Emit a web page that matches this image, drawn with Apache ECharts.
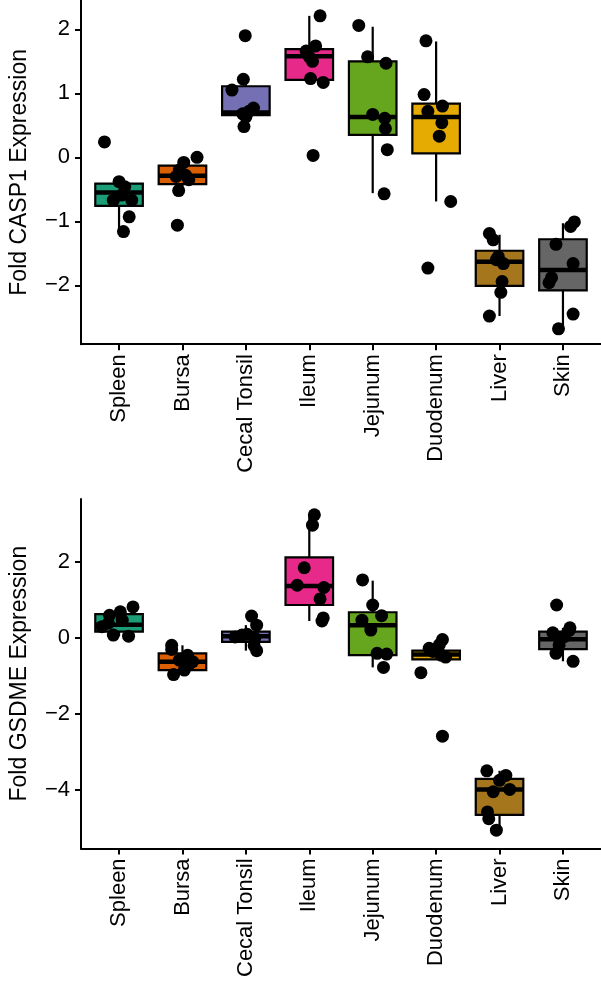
<!DOCTYPE html>
<html>
<head>
<meta charset="utf-8">
<script src="https://cdn.jsdelivr.net/npm/echarts@6/dist/echarts.min.js"></script>
<style>html,body{margin:0;padding:0;background:#fff}#c{width:601px;height:992px}</style>
</head>
<body>
<div id="c"></div>
<script>
const categories = ['Spleen', 'Bursa', 'Cecal Tonsil', 'Ileum', 'Jejunum', 'Duodenum', 'Liver', 'Skin'];
const colors = ['#1B9E77', '#D95F02', '#7570B3', '#E7298A', '#66A61E', '#E6AB02', '#A6761D', '#666666'];

// box stats: [lower whisker, Q1, median, Q3, upper whisker]
const casp1Box = [
  [-1.16, -0.76, -0.55, -0.41, -0.38],
  [-0.52, -0.42, -0.29, -0.13, 0.0],
  [0.48, 0.66, 0.70, 1.11, 1.22],
  [1.17, 1.21, 1.58, 1.69, 2.21],
  [-0.56, 0.35, 0.63, 1.50, 2.04],
  [-0.69, 0.06, 0.63, 0.84, 1.81],
  [-2.48, -2.01, -1.63, -1.46, -1.21],
  [-2.67, -2.08, -1.76, -1.28, -1.03]
];
const casp1Values = [
  [0.24, -0.38, -0.46, -0.59, -0.67, -0.67, -0.93, -1.16],
  [0.0, -0.08, -0.20, -0.28, -0.30, -0.35, -0.52, -1.06],
  [1.90, 1.22, 1.05, 0.77, 0.72, 0.68, 0.63, 0.48],
  [2.21, 1.74, 1.66, 1.57, 1.50, 1.23, 1.17, 0.03],
  [2.06, 1.57, 1.47, 0.67, 0.61, 0.45, 0.12, -0.57],
  [1.82, 0.98, 0.72, 0.80, 0.54, 0.33, -0.69, -1.73],
  [-1.19, -1.29, -1.55, -1.66, -1.60, -1.94, -2.11, -2.48],
  [-1.01, -1.08, -1.36, -1.66, -1.88, -1.96, -2.45, -2.68]
];
const casp1Jitter = [
  [-0.23, 0.0, 0.09, 0.04, -0.09, 0.20, 0.16, 0.07],
  [0.23, 0.02, -0.05, 0.05, -0.10, 0.10, -0.06, -0.08],
  [-0.01, -0.04, -0.22, 0.12, 0.05, -0.05, 0.0, -0.03],
  [0.17, 0.10, -0.05, 0.0, 0.05, 0.02, 0.22, 0.06],
  [-0.22, -0.08, 0.21, 0.0, 0.19, 0.20, 0.23, 0.18],
  [-0.16, -0.19, -0.13, 0.10, 0.09, 0.05, 0.23, -0.13],
  [-0.16, -0.10, -0.02, 0.06, -0.05, 0.04, 0.02, -0.16],
  [0.18, 0.12, -0.11, 0.16, -0.18, -0.22, 0.16, -0.07]
];

const gsdmeBox = [
  [0.05, 0.17, 0.35, 0.63, 0.82],
  [-0.96, -0.84, -0.62, -0.40, -0.19],
  [-0.33, -0.10, 0.05, 0.17, 0.34],
  [0.45, 0.87, 1.37, 2.12, 3.24],
  [-0.77, -0.45, 0.34, 0.68, 1.51],
  [-0.56, -0.56, -0.43, -0.33, -0.04],
  [-4.95, -4.65, -3.98, -3.70, -3.49],
  [-0.61, -0.29, -0.03, 0.17, 0.27]
];
const gsdmeValues = [
  [0.82, 0.69, 0.60, 0.47, 0.39, 0.30, 0.08, 0.05],
  [-0.19, -0.30, -0.45, -0.58, -0.62, -0.70, -0.84, -0.96],
  [0.58, 0.34, 0.08, 0.03, 0.0, 0.10, -0.20, -0.33],
  [3.24, 2.97, 1.85, 1.39, 1.33, 1.03, 0.53, 0.45],
  [1.53, 0.87, 0.59, 0.47, 0.21, -0.40, -0.42, -0.77],
  [-0.04, -0.18, -0.27, -0.35, -0.45, -0.50, -0.91, -2.58],
  [-3.49, -3.61, -3.74, -4.04, -3.98, -4.57, -4.75, -5.05],
  [0.87, 0.27, 0.14, 0.20, 0.04, -0.18, -0.40, -0.61]
];
const gsdmeJitter = [
  [0.22, 0.02, -0.15, 0.05, -0.17, -0.27, -0.09, 0.15],
  [-0.17, -0.17, 0.08, -0.05, 0.16, 0.10, 0.03, -0.14],
  [0.09, 0.17, -0.06, -0.17, 0.14, 0.02, 0.13, 0.17],
  [0.08, 0.05, -0.08, -0.19, 0.23, 0.17, 0.22, 0.20],
  [-0.16, 0.0, 0.14, -0.17, -0.03, 0.07, 0.22, 0.17],
  [0.10, 0.05, -0.11, -0.05, 0.08, 0.15, -0.24, 0.10],
  [-0.20, 0.10, 0.0, -0.10, 0.16, -0.19, -0.17, -0.05],
  [-0.10, 0.11, -0.16, 0.10, 0.02, -0.06, -0.11, 0.16]
];

const casp1Ticks = [-2, -1, 0, 1, 2];
const gsdmeTicks = [-4, -2, 0, 2];
const catTicks = [1, 2, 3, 4, 5, 6, 7, 8];

const FONT = 'Liberation Sans, Arial, Helvetica, sans-serif';
const minus = v => String(v).replace('-', '\u2212');

function boxData(box) {
  return box.map((b, i) => [i + 1].concat(b));
}
function pointData(values, jitter) {
  const out = [];
  values.forEach((arr, i) => arr.forEach((v, j) => out.push([i + 1 + jitter[i][j], v])));
  return out;
}

function renderBox(params, api) {
  const x = api.value(0);
  const lo = api.coord([x, api.value(1)]);
  const q1 = api.coord([x, api.value(2)]);
  const med = api.coord([x, api.value(3)]);
  const q3 = api.coord([x, api.value(4)]);
  const hi = api.coord([x, api.value(5)]);
  const hw = api.size([0.75, 0])[0] / 2;
  const col = colors[params.dataIndex];
  return {
    type: 'group',
    children: [
      { type: 'line', shape: { x1: lo[0], y1: lo[1], x2: q1[0], y2: q1[1] }, style: { stroke: '#000', lineWidth: 2.2 } },
      { type: 'line', shape: { x1: q3[0], y1: q3[1], x2: hi[0], y2: hi[1] }, style: { stroke: '#000', lineWidth: 2.2 } },
      { type: 'rect', shape: { x: q3[0] - hw, y: q3[1], width: hw * 2, height: q1[1] - q3[1] }, style: { fill: col, stroke: '#000', lineWidth: 2.2 } },
      { type: 'line', shape: { x1: med[0] - hw, y1: med[1], x2: med[0] + hw, y2: med[1] }, style: { stroke: '#000', lineWidth: 4.5 } }
    ]
  };
}

function xAxis(gridIndex) {
  return {
    type: 'value', gridIndex, min: 0.4, max: 8.6,
    splitLine: { show: false },
    axisLine: { show: true, onZero: false, lineStyle: { color: '#000', width: 2 } },
    axisTick: { show: true, length: 6, lineStyle: { color: '#000', width: 2 }, customValues: catTicks },
    axisLabel: {
      customValues: catTicks, rotate: 90, margin: 10, color: '#000', fontSize: 22, fontFamily: FONT,
      formatter: v => categories[Math.round(v) - 1] || ''
    }
  };
}
function yAxis(gridIndex, min, max, ticks, name) {
  return {
    type: 'value', gridIndex, min, max, name, nameLocation: 'middle', nameGap: 50, nameRotate: 90,
    nameTextStyle: { color: '#000', fontSize: 23, fontFamily: FONT },
    splitLine: { show: false },
    axisLine: { show: true, onZero: false, lineStyle: { color: '#000', width: 2 } },
    axisTick: { show: true, length: 6, lineStyle: { color: '#000', width: 2 }, customValues: ticks },
    axisLabel: { customValues: ticks, margin: 11, color: '#000', fontSize: 22, fontFamily: FONT, formatter: minus }
  };
}

const chart = echarts.init(document.getElementById('c'), null, { renderer: 'canvas' });
chart.setOption({
  animation: false,
  backgroundColor: '#fff',
  grid: [
    { left: 74, right: 0, top: 0.5, height: 343.7 },
    { left: 74, right: 0, top: 498.9, height: 349.5 }
  ],
  xAxis: [xAxis(0), xAxis(1)],
  yAxis: [
    yAxis(0, -2.92, 2.45, casp1Ticks, 'Fold CASP1 Expression'),
    yAxis(1, -5.53, 3.66, gsdmeTicks, 'Fold GSDME Expression')
  ],
  series: [
    { type: 'custom', xAxisIndex: 0, yAxisIndex: 0, renderItem: renderBox, data: boxData(casp1Box), encode: { x: 0, y: [1, 2, 3, 4, 5] }, z: 1 },
    { type: 'scatter', xAxisIndex: 0, yAxisIndex: 0, symbol: 'circle', symbolSize: 13, itemStyle: { color: '#000', opacity: 1 }, data: pointData(casp1Values, casp1Jitter), z: 2 },
    { type: 'custom', xAxisIndex: 1, yAxisIndex: 1, renderItem: renderBox, data: boxData(gsdmeBox), encode: { x: 0, y: [1, 2, 3, 4, 5] }, z: 1 },
    { type: 'scatter', xAxisIndex: 1, yAxisIndex: 1, symbol: 'circle', symbolSize: 13, itemStyle: { color: '#000', opacity: 1 }, data: pointData(gsdmeValues, gsdmeJitter), z: 2 }
  ]
});
</script>
</body>
</html>
